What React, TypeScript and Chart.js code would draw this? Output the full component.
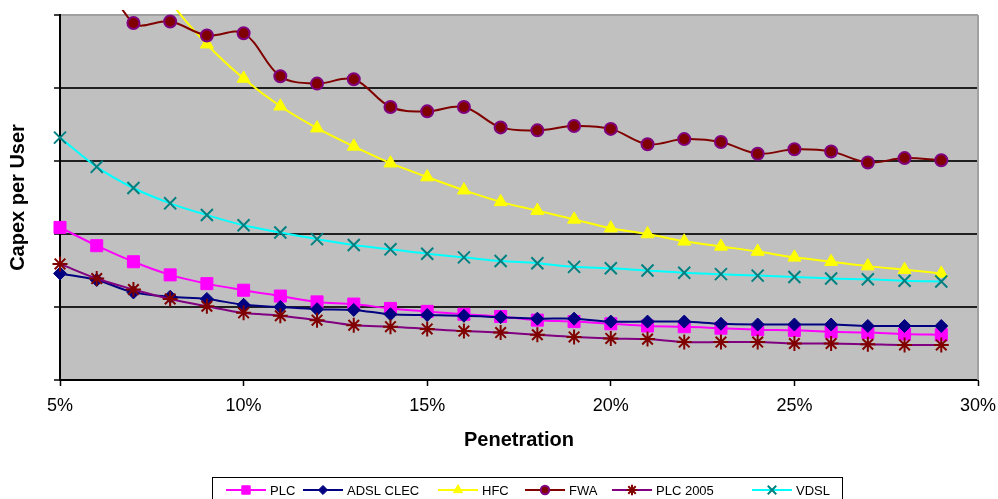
import { useEffect, useRef } from 'react';
import { Chart, registerables } from 'chart.js';
import { drawPoint } from 'chart.js/helpers';

Chart.register(...registerables);

// Penetration (%) for each sample
const penetration = [5, 6, 7, 8, 9, 10, 11, 12, 13, 14, 15, 16, 17, 18, 19, 20, 21, 22, 23, 24, 25, 26, 27, 28, 29];

// Capex per user, relative units
const plc = [2.09, 1.84, 1.62, 1.44, 1.32, 1.23, 1.15, 1.07, 1.04, 0.98, 0.94, 0.9, 0.87, 0.82, 0.8, 0.77, 0.74, 0.73, 0.71, 0.69, 0.68, 0.66, 0.65, 0.63, 0.62];
const adslClec = [1.46, 1.37, 1.2, 1.14, 1.11, 1.03, 1.0, 0.97, 0.96, 0.9, 0.89, 0.88, 0.86, 0.84, 0.84, 0.8, 0.8, 0.8, 0.77, 0.76, 0.76, 0.76, 0.74, 0.74, 0.74];
const hfc = [8.8, 7.4, 6.2, 5.2, 4.6, 4.13, 3.75, 3.45, 3.2, 2.97, 2.78, 2.6, 2.44, 2.32, 2.2, 2.08, 2.0, 1.9, 1.83, 1.76, 1.68, 1.62, 1.56, 1.51, 1.46];
const fwa = [6.6, 5.8, 4.89, 4.91, 4.72, 4.75, 4.16, 4.06, 4.12, 3.74, 3.68, 3.74, 3.46, 3.42, 3.48, 3.44, 3.23, 3.3, 3.26, 3.1, 3.16, 3.13, 2.98, 3.04, 3.01];
const plc2005 = [1.59, 1.39, 1.24, 1.11, 1.01, 0.92, 0.88, 0.82, 0.75, 0.73, 0.7, 0.67, 0.65, 0.62, 0.59, 0.57, 0.56, 0.52, 0.52, 0.52, 0.5, 0.5, 0.49, 0.48, 0.48];
const vdsl = [3.32, 2.92, 2.63, 2.42, 2.26, 2.12, 2.02, 1.93, 1.85, 1.79, 1.73, 1.68, 1.63, 1.6, 1.55, 1.53, 1.5, 1.47, 1.45, 1.43, 1.41, 1.39, 1.38, 1.36, 1.35];

const xTicks = [5, 10, 15, 20, 25, 30];

const FONT = '"Liberation Sans", Arial, sans-serif';

// left edge of each legend entry's line sample
const legendX = [226, 303, 438, 525, 612, 752];

const toPoints = (vals: number[]) => vals.map((v, i) => ({ x: penetration[i], y: v }));

const plotBackground = {
  id: 'plotBackground',
  beforeDraw(chart: any) {
    const { ctx, chartArea: a } = chart;
    ctx.save();
    ctx.fillStyle = '#c0c0c0';
    ctx.fillRect(a.left, a.top, a.right - a.left, a.bottom - a.top);
    ctx.restore();
  },
  beforeDatasetsDraw(chart: any) {
    const { ctx, chartArea: a } = chart;
    ctx.save();
    ctx.strokeStyle = '#a0a0a0';
    ctx.lineWidth = 2;
    ctx.beginPath();
    ctx.moveTo(a.right, a.top);
    ctx.lineTo(a.right, a.bottom);
    ctx.stroke();
    ctx.restore();
  },
};

const boxLegend = {
  id: 'boxLegend',
  afterDraw(chart: any) {
    const ctx = chart.ctx;
    ctx.save();
    ctx.strokeStyle = '#000';
    ctx.lineWidth = 1;
    ctx.strokeRect(212.5, 477.5, 630, 40);
    chart.data.datasets.forEach((ds: any, i: number) => {
      const x0 = legendX[i];
      const y = 490;
      ctx.strokeStyle = ds.borderColor;
      ctx.lineWidth = 2;
      ctx.beginPath();
      ctx.moveTo(x0, y);
      ctx.lineTo(x0 + 40, y);
      ctx.stroke();
      ctx.fillStyle = ds.pointBackgroundColor;
      ctx.strokeStyle = ds.pointBorderColor;
      ctx.lineWidth = ds.pointBorderWidth;
      drawPoint(ctx, { pointStyle: ds.pointStyle, radius: ds.pointRadius * 0.7, rotation: 0, borderWidth: ds.pointBorderWidth }, x0 + 20, y);
      ctx.fillStyle = '#000';
      ctx.font = `13px ${FONT}`;
      ctx.textBaseline = 'middle';
      ctx.textAlign = 'left';
      ctx.fillText(ds.label, x0 + 44, y + 1);
    });
    ctx.restore();
  },
};

function series(label: string, vals: number[], line: string, style: string, radius: number, fill: string, border: string, bw: number, order: number) {
  return {
    label,
    data: toPoints(vals),
    borderColor: line,
    borderWidth: 2,
    tension: 0.35,
    pointStyle: style,
    pointRadius: radius,
    pointHoverRadius: radius,
    pointBackgroundColor: fill,
    pointBorderColor: border,
    pointBorderWidth: bw,
    clip: { left: 10, top: 5, right: 10, bottom: 10 },
    order,
  };
}

export default function App() {
  const canvasRef = useRef<HTMLCanvasElement | null>(null);

  useEffect(() => {
    document.body.style.margin = '0';
    const canvas = canvasRef.current;
    if (!canvas) return;
    const chart = new Chart(canvas, {
      type: 'line',
      data: {
        datasets: [
          series('PLC', plc, '#ff00ff', 'rect', 8.5, '#ff00ff', '#ff00ff', 1, 0),
          series('ADSL CLEC', adslClec, '#000080', 'rectRot', 6.5, '#000080', '#000080', 1, -1),
          series('HFC', hfc, '#ffff00', 'triangle', 7.5, '#ffff00', '#ffff00', 1, -2),
          series('FWA', fwa, '#800000', 'circle', 6, '#800000', '#800080', 2, -3),
          series('PLC 2005', plc2005, '#800080', 'star', 7.5, '#800000', '#800000', 2, -4),
          series('VDSL', vdsl, '#00ffff', 'crossRot', 8.5, '#008080', '#008080', 2, -5),
        ],
      },
      plugins: [plotBackground, boxLegend],
      options: {
        responsive: false,
        animation: false,
        events: [],
        layout: { padding: { top: 15, right: 20, bottom: 40, left: 0 } },
        plugins: {
          legend: { display: false },
          tooltip: { enabled: false },
        },
        scales: {
          x: {
            type: 'linear',
            min: 5,
            max: 30,
            afterBuildTicks: (scale: any) => {
              scale.ticks = xTicks.map((v) => ({ value: v }));
            },
            afterFit: (scale: any) => {
              scale.height = 79;
              scale.paddingLeft = 0;
              scale.paddingRight = 0;
            },
            ticks: {
              callback: (v: any) => `${v}%`,
              color: '#000',
              font: { family: FONT, size: 18 },
              padding: 9,
              maxRotation: 0,
              autoSkip: false,
            },
            grid: {
              drawOnChartArea: false,
              drawTicks: true,
              tickLength: 6,
              tickColor: '#000',
              tickWidth: 1.5,
            },
            border: { display: true, color: '#000', width: 2 },
            title: {
              display: true,
              text: 'Penetration',
              color: '#000',
              font: { family: FONT, size: 20, weight: 'bold' },
              padding: { top: 0, bottom: 7 },
            },
          },
          y: {
            type: 'linear',
            min: 0,
            max: 5,
            ticks: { display: false, stepSize: 1 },
            afterFit: (scale: any) => {
              scale.width = 60;
              scale.paddingTop = 0;
              scale.paddingBottom = 0;
            },
            grid: {
              color: (c: any) => (c.tick && c.tick.value === 5 ? '#a0a0a0' : '#202020'),
              lineWidth: 2,
              drawTicks: true,
              tickLength: 6,
              tickColor: '#000',
              tickWidth: 1.5,
            },
            border: { display: true, color: '#000', width: 2 },
            title: {
              display: true,
              text: 'Capex per User',
              color: '#000',
              font: { family: FONT, size: 20, weight: 'bold' },
              padding: { top: 6, bottom: 0 },
            },
          },
        },
      } as any,
    });
    return () => chart.destroy();
  }, []);

  return (
    <div style={{ width: 998, height: 499, position: 'relative' }}>
      <canvas ref={canvasRef} width={998} height={499} style={{ display: 'block' }} />
    </div>
  );
}
